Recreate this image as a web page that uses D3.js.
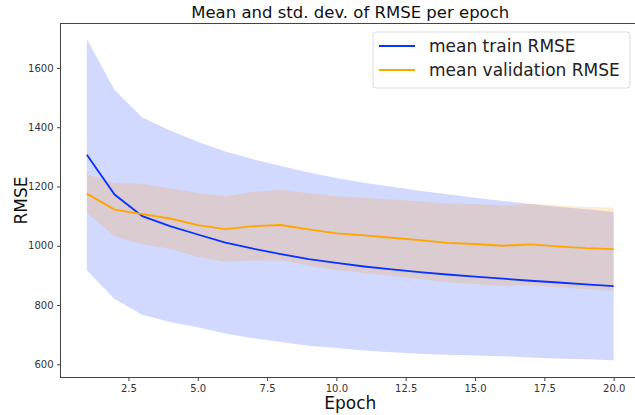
<!DOCTYPE html>
<html>
<head>
<meta charset="utf-8">
<script src="https://cdn.jsdelivr.net/npm/d3@7"></script>
<style>
  body { margin: 0; background: #fff; }
  svg { font-family: "DejaVu Sans", sans-serif; }
</style>
</head>
<body>
<script>
// values
const epochs = d3.range(1, 21);
const trainMean = [1307, 1173, 1100, 1066, 1038, 1011, 990, 972, 955, 942,
  930, 920, 911, 903, 896, 889, 882, 876, 870, 864];
const trainStd = [390, 353, 333, 323, 313, 307, 302, 297, 292, 287,
  283, 279, 275, 271, 266, 262, 259, 256, 253, 250];
const valMean = [1176, 1122, 1107, 1092, 1070, 1056, 1066, 1070, 1055, 1042,
  1035, 1027, 1019, 1010, 1006, 1000, 1005, 998, 992, 989];
const valStd = [65, 90, 102, 102, 108, 111, 116, 119, 122, 125,
  127, 129, 131, 133, 135, 136, 137, 138, 139, 140];
const xTicks = [2.5, 5, 7.5, 10, 12.5, 15, 17.5, 20];
const yTicks = [600, 800, 1000, 1200, 1400, 1600];

const width = 635, height = 415;
const margin = {top: 23.5, right: -5, bottom: 37.5, left: 60.5};

const x = d3.scaleLinear()
  .domain([0.05, 20.95])
  .range([margin.left, width - margin.right]);
const y = d3.scaleLinear()
  .domain([555.5, 1750])
  .range([height - margin.bottom, margin.top]);

const svg = d3.select("body").append("svg")
  .attr("width", width)
  .attr("height", height);

const band = (mean, std) => d3.area()
  .x((d, i) => x(epochs[i]))
  .y0((d, i) => y(mean[i] - std[i]))
  .y1((d, i) => y(mean[i] + std[i]));

const line = mean => d3.line()
  .x((d, i) => x(epochs[i]))
  .y((d, i) => y(mean[i]));

svg.append("path")
  .datum(trainMean)
  .attr("d", band(trainMean, trainStd))
  .attr("fill", "#2040f8")
  .attr("fill-opacity", 0.2);

svg.append("path")
  .datum(valMean)
  .attr("d", band(valMean, valStd))
  .attr("fill", "#ff9a20")
  .attr("fill-opacity", 0.2);

svg.append("path")
  .datum(trainMean)
  .attr("d", line(trainMean))
  .attr("fill", "none")
  .attr("stroke", "#0a32ff")
  .attr("stroke-width", 1.8);

svg.append("path")
  .datum(valMean)
  .attr("d", line(valMean))
  .attr("fill", "none")
  .attr("stroke", "#ffa500")
  .attr("stroke-width", 1.8);

// axes
const xAxis = svg.append("g")
  .attr("transform", `translate(0,${height - margin.bottom})`)
  .call(d3.axisBottom(x).tickValues(xTicks).tickFormat(d3.format(".1f")).tickSize(3.5).tickPadding(3.5));
const yAxis = svg.append("g")
  .attr("transform", `translate(${margin.left},0)`)
  .call(d3.axisLeft(y).tickValues(yTicks).tickFormat(d3.format("d")).tickSize(3.5).tickPadding(3.5));

[xAxis, yAxis].forEach(g => {
  g.select(".domain").remove();
  g.selectAll(".tick line").attr("stroke", "#444");
  g.selectAll(".tick text")
    .attr("fill", "#333")
    .style("font-family", "DejaVu Sans")
    .style("font-size", "10px");
});

// frame
svg.append("rect")
  .attr("x", margin.left)
  .attr("y", margin.top)
  .attr("width", width - margin.right - margin.left)
  .attr("height", height - margin.bottom - margin.top)
  .attr("fill", "none")
  .attr("stroke", "#444")
  .attr("stroke-width", 1);

// title + labels
svg.append("text")
  .attr("x", (margin.left + width - margin.right) / 2)
  .attr("y", 18)
  .attr("text-anchor", "middle")
  .style("font-size", "16.5px")
  .attr("fill", "#111")
  .text("Mean and std. dev. of RMSE per epoch");

svg.append("text")
  .attr("x", (margin.left + width - margin.right) / 2)
  .attr("y", 409)
  .attr("text-anchor", "middle")
  .style("font-size", "17px")
  .attr("fill", "#111")
  .text("Epoch");

svg.append("text")
  .attr("transform", `translate(27,${(margin.top + height - margin.bottom) / 2}) rotate(-90)`)
  .attr("text-anchor", "middle")
  .style("font-size", "17px")
  .attr("fill", "#111")
  .text("RMSE");

// legend
const legendItems = [
  {label: "mean train RMSE", color: "#0a32ff"},
  {label: "mean validation RMSE", color: "#ffa500"}
];
const legend = svg.append("g").attr("transform", "translate(373,32)");
legend.append("rect")
  .attr("width", 257)
  .attr("height", 56)
  .attr("rx", 3)
  .attr("fill", "#fff")
  .attr("fill-opacity", 0.8)
  .attr("stroke", "#ddd");
const item = legend.selectAll("g.item")
  .data(legendItems)
  .join("g")
  .attr("class", "item")
  .attr("transform", (d, i) => `translate(0,${14 + i * 24})`);
item.append("line")
  .attr("x1", 6).attr("x2", 42)
  .attr("stroke", d => d.color)
  .attr("stroke-width", 1.8);
item.append("text")
  .attr("x", 56)
  .attr("dy", "0.35em")
  .style("font-size", "17px")
  .attr("fill", "#222")
  .text(d => d.label);
</script>
</body>
</html>
